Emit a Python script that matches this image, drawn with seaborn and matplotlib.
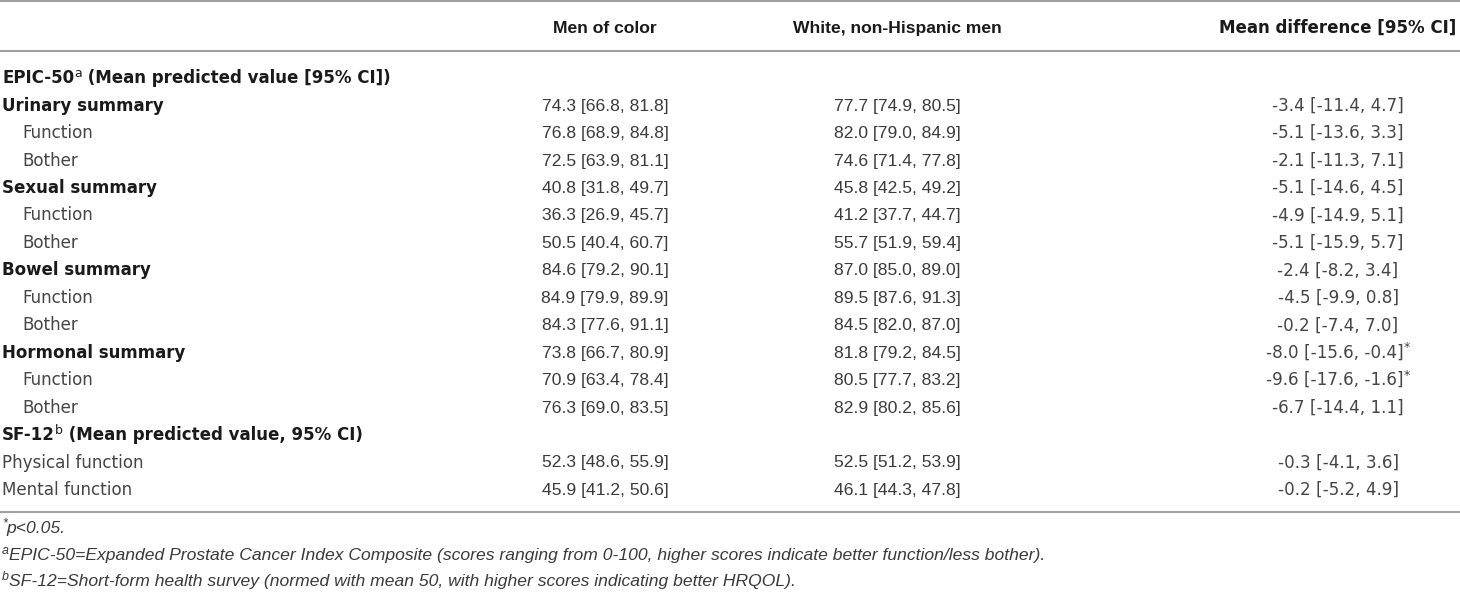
import matplotlib
matplotlib.use("Agg")
import matplotlib.pyplot as plt
import seaborn as sns

sns.set_theme(style="white")
plt.rcParams['font.family'] = ['Liberation Sans', 'DejaVu Sans']

# ---------------- data ----------------
col_headers = ["Men of color", "White, non-Hispanic men", "Mean difference [95% CI]"]

row_labels = ["EPIC-50", "Urinary summary", "Function", "Bother",
              "Sexual summary", "Function", "Bother",
              "Bowel summary", "Function", "Bother",
              "Hormonal summary", "Function", "Bother",
              "SF-12", "Physical function", "Mental function"]
# kinds: 'section' (bold, with superscript + note), 'summary' (bold), 'sub' (indented), 'plain'
row_kinds = ["section", "summary", "sub", "sub",
             "summary", "sub", "sub",
             "summary", "sub", "sub",
             "summary", "sub", "sub",
             "section", "plain", "plain"]
section_sup = {0: "a", 13: "b"}
section_note = {0: " (Mean predicted value [95% CI])", 13: " (Mean predicted value, 95% CI)"}

nan = None
moc_mean = [nan, 74.3, 76.8, 72.5, 40.8, 36.3, 50.5, 84.6, 84.9, 84.3, 73.8, 70.9, 76.3, nan, 52.3, 45.9]
moc_lo   = [nan, 66.8, 68.9, 63.9, 31.8, 26.9, 40.4, 79.2, 79.9, 77.6, 66.7, 63.4, 69.0, nan, 48.6, 41.2]
moc_hi   = [nan, 81.8, 84.8, 81.1, 49.7, 45.7, 60.7, 90.1, 89.9, 91.1, 80.9, 78.4, 83.5, nan, 55.9, 50.6]

wh_mean = [nan, 77.7, 82.0, 74.6, 45.8, 41.2, 55.7, 87.0, 89.5, 84.5, 81.8, 80.5, 82.9, nan, 52.5, 46.1]
wh_lo   = [nan, 74.9, 79.0, 71.4, 42.5, 37.7, 51.9, 85.0, 87.6, 82.0, 79.2, 77.7, 80.2, nan, 51.2, 44.3]
wh_hi   = [nan, 80.5, 84.9, 77.8, 49.2, 44.7, 59.4, 89.0, 91.3, 87.0, 84.5, 83.2, 85.6, nan, 53.9, 47.8]

diff_mean = [nan, -3.4, -5.1, -2.1, -5.1, -4.9, -5.1, -2.4, -4.5, -0.2, -8.0, -9.6, -6.7, nan, -0.3, -0.2]
diff_lo   = [nan, -11.4, -13.6, -11.3, -14.6, -14.9, -15.9, -8.2, -9.9, -7.4, -15.6, -17.6, -14.4, nan, -4.1, -5.2]
diff_hi   = [nan, 4.7, 3.3, 7.1, 4.5, 5.1, 5.7, 3.4, 0.8, 7.0, -0.4, -1.6, 1.1, nan, 3.6, 4.9]
diff_sig  = [False, False, False, False, False, False, False, False, False, False,
             True, True, False, False, False, False]

footnotes = [("*", "p<0.05."),
             ("a", "EPIC-50=Expanded Prostate Cancer Index Composite (scores ranging from 0-100, higher scores indicate better function/less bother)."),
             ("b", "SF-12=Short-form health survey (normed with mean 50, with higher scores indicating better HRQOL).")]

# ---------------- layout ----------------
W, H = 1460, 595
fig = plt.figure(figsize=(W / 100, H / 100), dpi=100)
ax = fig.add_axes([0, 0, 1, 1])
ax.set_xlim(0, W)
ax.set_ylim(H, 0)
ax.axis("off")

FS = 12.6
FS_WIDE = 12.1
FS_WIDE_B = 12.0
SUP = 9.0
HEAD_C = "#1a1a1a"
DATA_C = "#3a3a3a"
WIDE_C = "#454545"
LINE_C = "#a0a0a0"

F_MAIN = ['Liberation Sans', 'DejaVu Sans']
F_WIDE = ['DejaVu Sans']

fig.canvas.draw()
renderer = fig.canvas.get_renderer()


def rich(x, y, pieces, ha="left", family=F_MAIN, size=FS):
    """pieces: list of (text, kwargs, is_sup). y is baseline in data coords."""
    objs = []
    widths = []
    for txt, kw, sup in pieces:
        t = ax.text(0, y - (6.5 if sup else 0), txt, va="baseline", ha="left",
                    fontsize=(SUP if sup else size), family=family, **kw)
        objs.append(t)
        widths.append(t.get_window_extent(renderer).width)
    total = sum(widths)
    if ha == "center":
        x0 = x - total / 2
    elif ha == "right":
        x0 = x - total
    else:
        x0 = x
    for t, w in zip(objs, widths):
        t.set_x(x0)
        x0 += w
    return objs


col_x = [605, 897, 1338]
header_base = 33
row0 = 77
step = 27.45
cap_half = 6.2

# rules
ax.plot([0, W], [1, 1], color=LINE_C, lw=1.5, solid_capstyle="butt")
ax.plot([0, W], [50.5, 50.5], color=LINE_C, lw=1.5, solid_capstyle="butt")
ax.plot([0, W], [511.5, 511.5], color=LINE_C, lw=1.5, solid_capstyle="butt")

bold = dict(fontweight="bold", color=HEAD_C)
reg = dict(color=DATA_C)
wreg = dict(color=WIDE_C)

# headers
rich(col_x[0], header_base, [(col_headers[0], bold, False)], ha="center")
rich(col_x[1], header_base, [(col_headers[1], bold, False)], ha="center")
rich(col_x[2], header_base, [(col_headers[2], bold, False)], ha="center",
     family=F_WIDE, size=FS_WIDE_B)

for i, (lab, kind) in enumerate(zip(row_labels, row_kinds)):
    yb = row0 + i * step + cap_half
    if kind == "section":
        rich(2, yb, [(lab, bold, False), (section_sup[i], dict(color=HEAD_C), True),
                     (section_note[i], bold, False)], family=F_WIDE, size=FS_WIDE_B)
    elif kind == "summary":
        rich(2, yb, [(lab, bold, False)], family=F_WIDE, size=FS_WIDE_B)
    elif kind == "sub":
        rich(22, yb, [(lab, wreg, False)], family=F_WIDE, size=FS_WIDE)
    else:
        rich(2, yb, [(lab, wreg, False)], family=F_WIDE, size=FS_WIDE)

    if moc_mean[i] is not None:
        s1 = f"{moc_mean[i]:.1f} [{moc_lo[i]:.1f}, {moc_hi[i]:.1f}]"
        s2 = f"{wh_mean[i]:.1f} [{wh_lo[i]:.1f}, {wh_hi[i]:.1f}]"
        s3 = f"{diff_mean[i]:.1f} [{diff_lo[i]:.1f}, {diff_hi[i]:.1f}]"
        rich(col_x[0], yb, [(s1, reg, False)], ha="center")
        rich(col_x[1], yb, [(s2, reg, False)], ha="center")
        p3 = [(s3, wreg, False)]
        if diff_sig[i]:
            p3.append(("*", wreg, True))
        rich(col_x[2], yb, p3, ha="center", family=F_WIDE, size=FS_WIDE)

# footnotes
foot_base = [533, 560, 586]
it = dict(style="italic", color=DATA_C)
for (mark, txt), fb in zip(footnotes, foot_base):
    rich(2, fb, [(mark, it, True), (txt, it, False)])

fig.savefig("out.png", dpi=100)
